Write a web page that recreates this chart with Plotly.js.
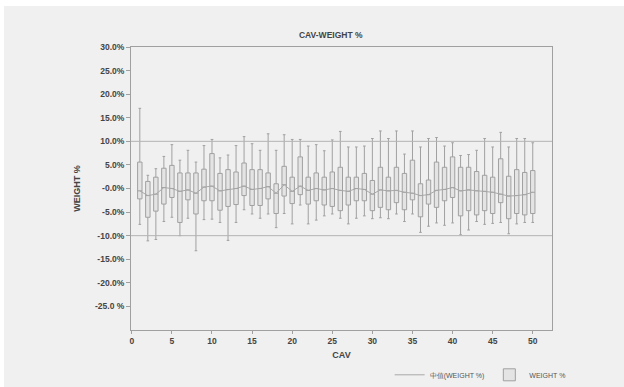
<!DOCTYPE html>
<html><head><meta charset="utf-8">
<script src="https://cdn.plot.ly/plotly-3.0.1.min.js"></script>
<style>
html,body{margin:0;padding:0;background:#ffffff;}
#chart{position:absolute;left:4px;top:6px;width:620px;height:381px;}
</style></head>
<body><div id="chart"></div>
<script>
const cav = [1,2,3,4,5,6,7,8,9,10,11,12,13,14,15,16,17,18,19,20,21,22,23,24,25,26,27,28,29,30,31,32,33,34,35,36,37,38,39,40,41,42,43,44,45,46,47,48,49,50];
const q1 = [-2.2,-6.1,-4.8,-3.3,-1.9,-7.2,-2.4,-5.4,-2.6,-2.6,-4.6,-3.8,-3.4,-1.5,-3.6,-3.6,-2.2,-5.3,-1.6,-3.2,-1.3,-3.3,-2.6,-3.5,-3.8,-4.7,-3.5,-2.6,-2.6,-4.7,-4.0,-4.5,-3.0,-4.5,-2.4,-6.0,-3.3,-4.0,-2.6,-1.9,-5.8,-4.7,-5.6,-4.7,-5.3,-3.0,-6.4,-5.3,-5.6,-5.3];
const med = [-0.5,-1.5,-1.2,0.2,0.0,-0.6,-0.3,-1.0,0.3,0.5,-0.5,-0.2,0.0,0.5,-0.2,0.0,0.4,-1.0,0.8,-0.6,0.5,-0.4,0.0,-0.3,0.0,-0.4,-0.6,0.0,-0.2,-1.2,-0.3,-0.5,-0.4,-0.8,-1.0,-1.5,-1.3,-0.4,-0.2,0.2,-0.5,-0.3,-0.5,-0.6,-0.8,-1.2,-1.6,-1.5,-1.3,-0.8];
const q3 = [5.6,1.5,2.4,4.3,4.9,3.3,3.3,3.3,4.1,7.4,3.2,4.0,3.5,5.4,4.0,4.0,3.3,1.0,4.7,2.4,6.7,2.4,3.3,2.4,3.5,4.5,2.4,2.4,3.2,1.7,4.5,2.4,4.5,3.2,6.0,1.0,1.8,5.6,4.5,6.7,4.5,4.5,3.6,2.8,2.4,6.3,2.6,4.0,3.4,3.8];
const lo = [-7.6,-11.1,-10.8,-7.0,-6.1,-10.0,-6.3,-13.2,-6.6,-6.5,-7.2,-11.0,-7.2,-4.5,-5.4,-6.3,-5.4,-8.3,-5.3,-7.5,-3.5,-7.5,-6.7,-5.8,-5.4,-6.3,-7.5,-6.3,-5.8,-6.4,-6.2,-6.4,-5.4,-7.0,-5.4,-9.3,-8.0,-7.3,-7.8,-7.3,-9.8,-8.8,-7.0,-7.6,-7.4,-7.2,-9.6,-7.5,-7.2,-7.2];
const hi = [17.0,2.8,4.2,6.8,9.3,6.0,8.1,5.6,9.1,10.4,6.5,7.1,9.1,11.0,9.5,8.1,11.6,8.1,11.4,10.4,10.4,9.0,9.3,8.0,10.3,12.1,8.8,8.8,9.0,10.6,12.2,10.6,12.2,7.3,12.2,8.8,10.6,10.8,9.0,9.7,7.0,7.2,8.1,10.6,8.8,11.9,8.8,10.6,10.6,9.7];
const yTickVals = [30,25,20,15,10,5,0,-5,-10,-15,-20,-25];
const yTickText = ["30.0%","25.0%","20.0%","15.0%","10.0%","5.0%","-0.0%","-5.0%","-10.0%","-15.0%","-20.0%","-25.0 %"];
const xTickVals = [0,5,10,15,20,25,30,35,40,45,50];

const FONT = 'Liberation Sans, Arial, sans-serif';
const tickFont = {family:FONT, size:8.5, color:'#444', weight:'bold'};

const traces = [
  {type:'scatter', mode:'lines', x:cav, y:med, name:'中值(WEIGHT %)',
   line:{color:'#a8a8a8', width:1}, hoverinfo:'skip'},
  {type:'box', x:cav, q1:q1, median:med, q3:q3, lowerfence:lo, upperfence:hi,
   name:'WEIGHT %', width:0.55, whiskerwidth:0.6,
   fillcolor:'#e4e4e4', line:{color:'#a0a0a0', width:1}, boxpoints:false}
];

const layout = {
  width:620, height:381,
  paper_bgcolor:'#f0f0f0', plot_bgcolor:'#f0f0f0',
  margin:{l:127, r:72, t:41, b:57, autoexpand:false},
  title:{text:'CAV-WEIGHT %', x:0.527, xanchor:'center', xref:'container', y:0.924, yanchor:'middle', yref:'container',
         font:{family:FONT, size:8.5, color:'#444', weight:'bold'}},
  xaxis:{range:[-0.1,52.4], tickvals:xTickVals, ticktext:xTickVals.map(String), showgrid:false, zeroline:false,
         showline:true, linecolor:'#a0a0a0', linewidth:1, mirror:true, ticks:'outside', ticklen:3, tickcolor:'#a0a0a0',
         tickfont:tickFont,
         title:{text:'CAV', standoff:6, font:{family:FONT, size:9, color:'#444', weight:'bold'}}},
  yaxis:{range:[-30,30], tickvals:yTickVals, ticktext:yTickText, showgrid:false, zeroline:false,
         showline:true, linecolor:'#a0a0a0', linewidth:1, mirror:true, ticks:'outside', ticklen:4, tickcolor:'#a0a0a0',
         tickfont:tickFont,
         title:{text:'WEIGHT %', standoff:12, font:{family:FONT, size:9, color:'#444', weight:'bold'}}},
  shapes:[
    {type:'line', xref:'paper', x0:0, x1:1, yref:'y', y0:10, y1:10, line:{color:'#b4b4b4', width:1}},
    {type:'line', xref:'paper', x0:0, x1:1, yref:'y', y0:-10, y1:-10, line:{color:'#b4b4b4', width:1}}
  ],
  showlegend:true,
  legend:{orientation:'h', xref:'container', x:0.622, xanchor:'left', yref:'container', y:0.032, yanchor:'middle', bgcolor:'rgba(0,0,0,0)',
          font:{family:FONT, size:7, color:'#555'}, itemwidth:30, tracegroupgap:0}
};

Plotly.newPlot('chart', traces, layout, {displayModeBar:false, staticPlot:true});
</script></body></html>
